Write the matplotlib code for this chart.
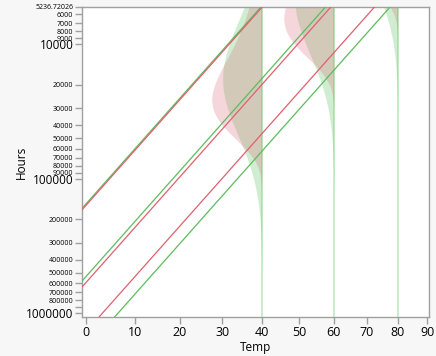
import numpy as np
import matplotlib
matplotlib.use('Agg')
import matplotlib.pyplot as plt
from matplotlib.ticker import FixedLocator, FixedFormatter, NullLocator
from statistics import NormalDist

plt.rcParams['font.family'] = ['Open Sans', 'DejaVu Sans']

# Arrhenius life fit, log10(Hours) against 11604.5/(Temp+273.15)
test_temps = [40, 60, 80]
quantile_probs = [0.1, 0.5, 0.9]
slope = 0.271             # log10 hours per unit of 11604.5/(T+273.15)
weibull_loc40 = 4.412     # location at 40 C, log10 hours
weibull_scale = 0.3045
lognorm_loc40 = 4.256
lognorm_scale = 0.4216

x_ticks = [0, 10, 20, 30, 40, 50, 60, 70, 80, 90]
major_ticks = [1e4, 1e5, 1e6]
major_labels = ['10000', '100000', '1000000']
minor_ticks = [5236.72026, 6000, 7000, 8000, 9000,
               20000, 30000, 40000, 50000, 60000, 70000, 80000, 90000,
               200000, 300000, 400000, 500000, 600000, 700000, 800000, 900000]
minor_labels = ['5236.72026', '6000', '7000', '8000', '9000',
                '20000', '30000', '40000', '50000', '60000', '70000', '80000', '90000',
                '200000', '300000', '400000', '500000', '600000', '700000', '800000', '']

RED = (215/255, 95/255, 115/255)
GREEN = (75/255, 187/255, 75/255)
RED_LINE = '#e0606f'
GREEN_LINE = '#5cbc5c'


def arr(t):
    return 11604.5 / (np.asarray(t, dtype=float) + 273.15)


def fwd(t):
    with np.errstate(divide='ignore', invalid='ignore'):
        return -arr(t)


def inv(v):
    with np.errstate(divide='ignore', invalid='ignore'):
        return -11604.5 / np.asarray(v, dtype=float) - 273.15


def sev_pdf(z):
    with np.errstate(over='ignore'):
        return np.exp(z - np.exp(z))


def norm_pdf(z):
    return np.exp(-0.5 * z ** 2) / np.sqrt(2 * np.pi)


dists = [
    # loc at 40C, scale, quantile fn, pdf, fill colour, line colour
    (lognorm_loc40, lognorm_scale, lambda p: NormalDist().inv_cdf(p), norm_pdf, GREEN, GREEN_LINE),
    (weibull_loc40, weibull_scale, lambda p: np.log(-np.log(1 - p)), sev_pdf, RED, RED_LINE),
]

xlim = (-0.73, 90.6)
ylim = (1.071e6, 5236.72026)
dens_width = 1.278   # density scale, in Arrhenius units

fig = plt.figure(figsize=(4.36, 3.56), dpi=100, facecolor='#f7f7f7')
ax = fig.add_axes([0.1888, 0.1087, 0.7945, 0.873])
ax.set_facecolor('white')
ax.set_xscale('function', functions=(fwd, inv))
ax.set_yscale('log')

logh = np.linspace(3.6, 6.1, 800)
for loc40, scale, qf, pdf, fill_c, line_c in dists:
    for t in test_temps:
        loc = loc40 + slope * (arr(t) - arr(40))
        w = dens_width * pdf((logh - loc) / scale) / scale
        ax.fill_betweenx(10 ** logh, inv(fwd(t) - w), t, color=fill_c, alpha=0.25, lw=0, zorder=1)

for t in test_temps:
    ax.plot([t, t], ylim, color=GREEN, alpha=0.3, lw=1.3, zorder=1)

tl = np.array(xlim)
for loc40, scale, qf, pdf, fill_c, line_c in dists:
    for p in quantile_probs:
        lh = loc40 + slope * (arr(tl) - arr(40)) + qf(p) * scale
        ax.plot(tl, 10 ** lh, color=line_c, lw=0.9, zorder=3)

ax.set_xlim(*xlim)
ax.set_ylim(*ylim)

ax.xaxis.set_major_locator(FixedLocator(x_ticks))
ax.xaxis.set_major_formatter(FixedFormatter([str(v) for v in x_ticks]))
ax.xaxis.set_minor_locator(NullLocator())
ax.yaxis.set_major_locator(FixedLocator(major_ticks))
ax.yaxis.set_major_formatter(FixedFormatter(major_labels))
ax.yaxis.set_minor_locator(FixedLocator(minor_ticks))
ax.yaxis.set_minor_formatter(FixedFormatter(minor_labels))

ax.tick_params(axis='both', which='both', color='#a0a0a0', width=1)
ax.tick_params(axis='x', which='major', labelsize=9, length=5, pad=1)
ax.tick_params(axis='y', which='major', labelsize=8.5, length=5, pad=1.5)
ax.tick_params(axis='y', which='minor', labelsize=5, length=5, pad=1.5)
for s in ax.spines.values():
    s.set_color('#a0a0a0')
    s.set_linewidth(1)

ax.set_xlabel('Temp', fontsize=8.5)
ax.set_ylabel('Hours', fontsize=8.5)
ax.xaxis.set_label_coords(0.5, -0.075)
ax.yaxis.set_label_coords(-0.158, 0.5)

fig.savefig('out.png', dpi=100, facecolor=fig.get_facecolor())
